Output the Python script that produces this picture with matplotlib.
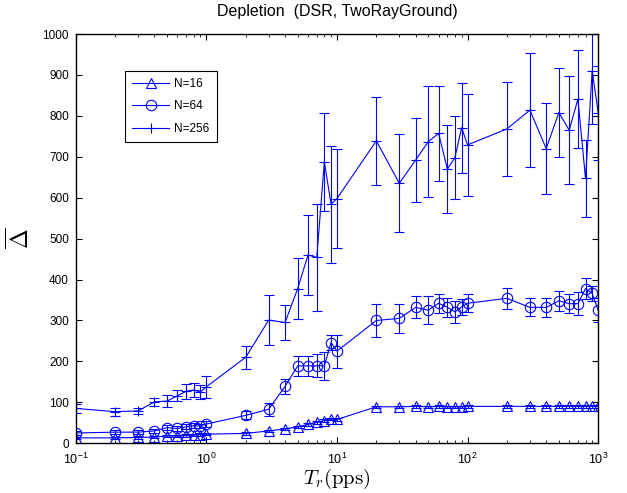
import numpy as np
import matplotlib
matplotlib.use("Agg")
import matplotlib.pyplot as plt
from matplotlib.lines import Line2D
from matplotlib.ticker import LogLocator, NullFormatter

plt.rcParams['font.family'] = ['Liberation Sans', 'DejaVu Sans']
plt.rcParams['mathtext.fontset'] = 'cm'

# rate values (pps)
tr = [0.1, 0.2, 0.3, 0.4, 0.5, 0.6, 0.7, 0.8, 0.9, 1,
      2, 3, 4, 5, 6, 7, 8, 9, 10,
      20, 30, 40, 50, 60, 70, 80, 90, 100,
      200, 300, 400, 500, 600, 700, 800, 900, 1000]

n16 = [13, 13, 14, 15, 18, 17, 19, 20, 21, 22,
       24, 30, 35, 40, 46, 51, 55, 59, 58,
       89, 89, 90, 89, 90, 89, 89, 89, 90,
       90, 90, 90, 90, 90, 90, 90, 90, 90]
n16_err = [3] * 37

n64 = [25, 27, 27, 30, 38, 36, 40, 43, 42, 47,
       68, 83, 139, 189, 189, 189, 189, 246, 225,
       300, 305, 332, 325, 342, 332, 321, 333, 342,
       354, 332, 332, 348, 341, 341, 378, 366, 325]
n64_err = [5, 5, 5, 5, 6, 5, 6, 6, 6, 7,
           10, 16, 18, 24, 24, 28, 35, 18, 40,
           40, 36, 27, 34, 23, 24, 27, 20, 22,
           26, 22, 24, 25, 24, 28, 25, 18, 30]

n256 = [85, 77, 79, 101, 103, 116, 127, 130, 125, 138,
        210, 301, 295, 378, 460, 454, 688, 584, 598,
        739, 635, 692, 737, 757, 670, 698, 771, 729,
        768, 814, 720, 808, 765, 841, 647, 910, 808]
n256_err = [10, 10, 7, 10, 14, 14, 18, 16, 18, 27,
            28, 60, 43, 75, 97, 130, 120, 143, 120,
            107, 120, 102, 135, 116, 108, 102, 110, 125,
            114, 140, 111, 108, 132, 120, 94, 131, 115]

labels = ['N=16', 'N=64', 'N=256']
markers = ['^', 'o', '+']

fig = plt.figure(figsize=(6.27, 4.93), dpi=100)
ax = fig.add_axes([0.121, 0.101, 0.833, 0.830])

blue = '#0000ff'
common = dict(color=blue, ecolor=blue, lw=0.8, elinewidth=0.8, capsize=3.5,
              capthick=0.8, mfc='none', mec=blue, mew=0.8, ms=7.5)

for vals, errs, mk in zip([n16, n64, n256], [n16_err, n64_err, n256_err], markers):
    ax.errorbar(tr, vals, yerr=errs, marker=mk, **common)

ax.set_xscale('log')
ax.set_xlim(0.1, 1000)
ax.set_ylim(0, 1000)
ax.set_yticks(np.arange(0, 1001, 100))
ax.xaxis.set_major_locator(LogLocator(base=10, numticks=10))
ax.xaxis.set_minor_locator(LogLocator(base=10, subs=np.arange(2, 10), numticks=50))
ax.xaxis.set_minor_formatter(NullFormatter())
ax.tick_params(which='both', direction='in', top=True, right=True, labelsize=8.5)
ax.tick_params(which='major', length=4)
ax.tick_params(which='minor', length=2)
ax.tick_params(axis='y', pad=5)
ax.tick_params(axis='x', pad=6, labelsize=9)
for s in ax.spines.values():
    s.set_linewidth(1.0)

ax.set_title('Depletion  (DSR, TwoRayGround)', fontsize=11.5, pad=13)
ax.set_xlabel(r'$T_r(\mathrm{pps})$', fontsize=15, labelpad=0)
ax.set_ylabel(r'$\overline{\Delta}$', fontsize=17, labelpad=6)

handles = [Line2D([], [], color=blue, lw=0.8, marker=mk, ms=7.5, mfc='none',
                  mec=blue, mew=0.8) for mk in markers]
leg = ax.legend(handles, labels, loc='upper left', bbox_to_anchor=(0.082, 0.925),
                fontsize=8.5, fancybox=False, edgecolor='black', framealpha=1,
                handlelength=3.2, borderpad=0.6, labelspacing=0.9, handletextpad=0.4)
leg.get_frame().set_linewidth(0.8)

fig.savefig('out.png', dpi=100)
